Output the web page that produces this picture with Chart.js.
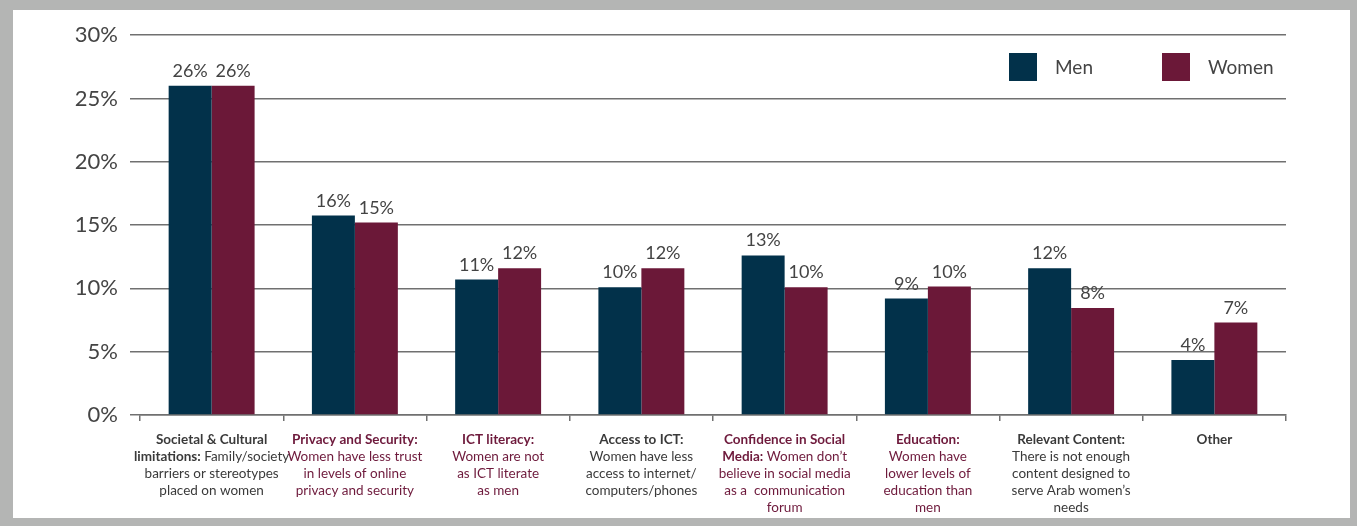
<!DOCTYPE html>
<html>
<head>
<meta charset="utf-8">
<script src="https://cdn.jsdelivr.net/npm/chart.js@4.4.1/dist/chart.umd.min.js"></script>
<style>
  body { margin: 0; background: #b4b5b4; width: 1357px; height: 526px; overflow: hidden; }
  #frame { position: absolute; left: 13px; top: 10px; width: 1337px; height: 508px; background: #fff; }
</style>
</head>
<body>
<div id="frame"><canvas id="barrierChart" width="1337" height="508"></canvas></div>
<script>
// category labels: each line is a list of [text, bold] segments
const categories = [
  [[["Societal & Cultural", true]], [["limitations:", true], [" Family/society", false]], [["barriers or stereotypes", false]], [["placed on women", false]]],
  [[["Privacy and Security:", true]], [["Women have less trust", false]], [["in levels of online", false]], [["privacy and security", false]]],
  [[["ICT literacy:", true]], [["Women are not", false]], [["as ICT literate", false]], [["as men", false]]],
  [[["Access to ICT:", true]], [["Women have less", false]], [["access to internet/", false]], [["computers/phones", false]]],
  [[["Confidence in Social", true]], [["Media:", true], [" Women don\u2019t", false]], [["believe in social media", false]], [["as a  communication", false]], [["forum", false]]],
  [[["Education:", true]], [["Women have", false]], [["lower levels of", false]], [["education than", false]], [["men", false]]],
  [[["Relevant Content:", true]], [["There is not enough", false]], [["content designed to", false]], [["serve Arab women\u2019s", false]], [["needs", false]]],
  [[["Other", true]]]
];
const categoryColors = ["#3a3a3a", "#6e1a3c", "#6e1a3c", "#3a3a3a", "#6e1a3c", "#6e1a3c", "#3a3a3a", "#3a3a3a"];

const menValues   = [26, 15.75, 10.7, 10.1, 12.6, 9.2, 11.6, 4.35];
const womenValues = [26, 15.2, 11.6, 11.6, 10.1, 10.15, 8.45, 7.3];
const yTicks = [0, 5, 10, 15, 20, 25, 30];

const FONT = "Lato, 'Open Sans', sans-serif";

// legend drawn in top right corner of the plot
const legendPlugin = {
  id: 'cornerLegend',
  afterDraw(chart) {
    const ctx = chart.ctx;
    const right = chart.chartArea.right;
    const xs = [right - 277, right - 124];
    ctx.save();
    ctx.font = "19px " + FONT;
    ctx.textBaseline = 'middle';
    chart.data.datasets.forEach((ds, i) => {
      ctx.fillStyle = ds.backgroundColor;
      ctx.fillRect(xs[i], 43, 28, 28);
      ctx.fillStyle = '#444';
      ctx.fillText(ds.label, xs[i] + 46, 58);
    });
    ctx.restore();
  }
};

// value labels above bars
const valueLabels = {
  id: 'valueLabels',
  afterDatasetsDraw(chart) {
    const ctx = chart.ctx;
    ctx.save();
    ctx.font = "18px " + FONT;
    ctx.fillStyle = '#444';
    ctx.textAlign = 'center';
    ctx.textBaseline = 'alphabetic';
    chart.data.datasets.forEach((ds, i) => {
      chart.getDatasetMeta(i).data.forEach((bar, j) => {
        ctx.fillText(Math.round(ds.data[j]) + '%', bar.x, bar.y - 9);
      });
    });
    ctx.restore();
  }
};

// multi-line category labels with bold lead-ins
const categoryLabels = {
  id: 'categoryLabels',
  afterDraw(chart) {
    const ctx = chart.ctx;
    const xScale = chart.scales.x;
    const bold = "bold 13.5px " + FONT;
    const normal = "13.5px " + FONT;
    ctx.save();
    ctx.textBaseline = 'middle';
    ctx.textAlign = 'left';
    categories.forEach((lines, i) => {
      const cx = xScale.getPixelForValue(i);
      ctx.fillStyle = categoryColors[i];
      lines.forEach((segs, k) => {
        const y = chart.chartArea.bottom + 25 + k * 17;
        let total = 0;
        segs.forEach(s => { ctx.font = s[1] ? bold : normal; total += ctx.measureText(s[0]).width; });
        let x = cx - total / 2;
        segs.forEach(s => {
          ctx.font = s[1] ? bold : normal;
          ctx.fillText(s[0], x, y);
          x += ctx.measureText(s[0]).width;
        });
      });
    });
    ctx.restore();
  }
};

new Chart(document.getElementById('barrierChart'), {
  type: 'bar',
  data: {
    labels: categories.map((c, i) => 'c' + i),
    datasets: [
      { label: 'Men', data: menValues, backgroundColor: '#02314a' },
      { label: 'Women', data: womenValues, backgroundColor: '#6b1838' }
    ]
  },
  options: {
    responsive: false,
    animation: false,
    devicePixelRatio: 1,
    categoryPercentage: 0.6,
    barPercentage: 1,
    layout: { padding: { top: 21, right: 64, bottom: 0, left: 0 } },
    plugins: {
      legend: { display: false },
      tooltip: { enabled: false }
    },
    scales: {
      x: {
        afterFit: (scale) => { scale.height = 103; },
        ticks: { display: false },
        grid: { drawOnChartArea: false, drawTicks: true, tickLength: 6, color: '#707070', lineWidth: 1.5 },
        border: { display: true, color: '#707070', width: 1.5 }
      },
      y: {
        min: 0,
        max: 30,
        afterFit: (scale) => { scale.width = 127; },
        afterBuildTicks: (scale) => { scale.ticks = yTicks.map(v => ({ value: v })); },
        ticks: {
          padding: 12,
          color: '#444',
          font: { family: FONT, size: 22 },
          callback: (v) => v + '%'
        },
        grid: { color: '#707070', lineWidth: 1.5, drawTicks: true, tickLength: 10 },
        border: { display: false }
      }
    }
  },
  plugins: [legendPlugin, valueLabels, categoryLabels]
});
</script>
</body>
</html>
